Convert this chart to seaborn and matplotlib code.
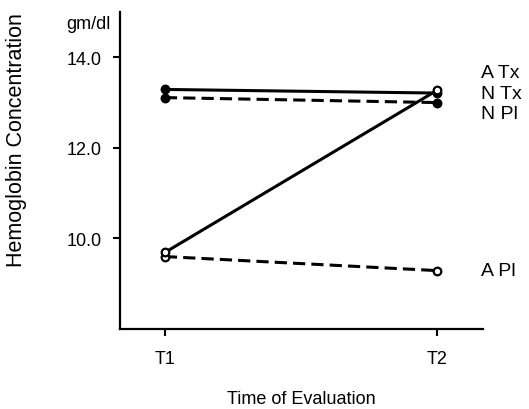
"""
Hemoglobin concentration at two evaluation times, four groups
"""

import numpy as np
import pandas as pd
import matplotlib
matplotlib.use('Agg')
import matplotlib.pyplot as plt
import seaborn as sns

# data
times = ['T1', 'T2']
groups = ['A Tx', 'N Tx', 'N Pl', 'A Pl']
a_tx = [9.69, 13.27]
n_tx = [13.29, 13.21]
n_pl = [13.11, 13.00]
a_pl = [9.60, 9.29]
label_y = [13.66, 13.20, 12.76, 9.29]  # where the group names sit at the right

series = {'A Tx': a_tx, 'N Tx': n_tx, 'N Pl': n_pl, 'A Pl': a_pl}
styles = {
    'A Tx': dict(linestyle='-', mfc='white'),
    'N Tx': dict(linestyle='-', mfc='black'),
    'N Pl': dict(linestyle=(0, (4, 2)), mfc='black'),
    'A Pl': dict(linestyle=(0, (4, 2)), mfc='white'),
}

rows = []
for g in groups:
    for i, t in enumerate(times):
        rows.append({'group': g, 'x': i + 1, 'time': t, 'value': series[g][i]})
df = pd.DataFrame(rows)

sns.set_style('ticks')
plt.rcParams['font.family'] = ['Liberation Sans', 'DejaVu Sans']
plt.rcParams.update({'text.color': 'black', 'axes.labelcolor': 'black',
                     'xtick.color': 'black', 'ytick.color': 'black'})

fig = plt.figure(figsize=(5.29, 4.10), dpi=100)
ax = fig.add_axes([0.2268, 0.1951, 0.6862, 0.7732])

# draw order: open-circle A Tx last so its T2 marker stays visible
for g in ['N Tx', 'N Pl', 'A Pl', 'A Tx']:
    sub = df[df['group'] == g]
    st = styles[g]
    sns.lineplot(data=sub, x='x', y='value', ax=ax, color='black', linewidth=2.2,
                 linestyle=st['linestyle'], marker='o', markersize=5.5,
                 markerfacecolor=st['mfc'], markeredgecolor='black',
                 markeredgewidth=1.6, legend=False)

# group names to the right of T2
for g, ly in zip(groups, label_y):
    ax.text(2.16, ly, g, fontsize=14, va='center', ha='left', clip_on=False)

ax.set_xlim(0.835, 2.169)
ax.set_ylim(8.0, 15.0)
ax.set_xticks([1, 2])
ax.set_xticklabels(times)
ax.set_yticks([10, 12, 14])
ax.set_yticklabels(['10.0', '12.0', '14.0'])
ax.tick_params(axis='both', direction='out', length=5, width=1.5, labelsize=13, color='black')
ax.tick_params(axis='y', pad=8)
ax.tick_params(axis='x', pad=10)

ax.set_xlabel('Time of Evaluation', fontsize=13, labelpad=17)
ax.set_ylabel('Hemoglobin Concentration', fontsize=15.5)
ax.yaxis.set_label_coords(-0.255, 0.60)
ax.text(-0.025, 0.99, 'gm/dl', transform=ax.transAxes, fontsize=13, ha='right', va='top')

sns.despine(ax=ax)
for s in ['left', 'bottom']:
    ax.spines[s].set_linewidth(1.6)
    ax.spines[s].set_color('black')

plt.savefig('out.png', dpi=100)
